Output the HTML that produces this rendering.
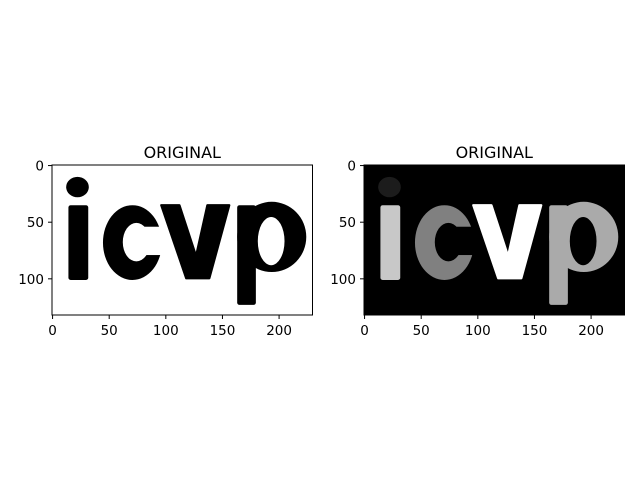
<!DOCTYPE html>
<html><head><meta charset="utf-8"><style>
html,body{margin:0;padding:0;background:#fff;width:640px;height:480px;overflow:hidden}
svg text{font-family:"DejaVu Sans","Liberation Sans",sans-serif;fill:#000}
</style></head><body>
<svg id="fig" width="640" height="480" xmlns="http://www.w3.org/2000/svg">
<rect width="640" height="480" fill="#fff"/>
</svg>
<script>
const xTicks=[0,50,100,150,200];
const yTicks=[0,50,100];
const titles=["ORIGINAL","ORIGINAL"];
const imgW=230, imgH=132;
// letter shapes in image pixel coordinates
const dotEll=[22,19,10,9];             // cx,cy,rx,ry
const stemRect=[14,35,17.5,66];
const cOuter=[70.5,68,26,33];
const cInner=[74,67.6,12,17];
const cGap=[74,54,23,25];              // x,y,w,h opening
const vPoly=[[96,35],[112,35],[126.7,80],[136.7,35],[156,35],[138.4,99.5],[118,99.5]];
const pStem=[163,35,16.5,88];
const pOuter=[193.5,63,30.5,31];
const pInner=[193,66.7,11.8,21.3];
// fills for each panel: background, dot, i, c, v, p
const leftFills=["#fff","#000","#000","#000","#000","#000"];
const rightFills=["#000","#1c1c1c","#c8c8c8","#808080","#ffffff","#aaaaaa"];
const panelsX=[52,364];
const axTop=165, axW=260.5, axH=150;
const sc=axW/imgW;
const NS="http://www.w3.org/2000/svg";
const fig=document.getElementById('fig');
function mk(t,a,p){const e=document.createElementNS(NS,t);for(const k in a)e.setAttribute(k,a[k]);(p||fig).appendChild(e);return e;}
function xs(x0,v){return x0+(v+0.5)*sc;}
function ys(v){return axTop+(v+0.5)*sc;}
function ell(e){const [cx,cy,rx,ry]=e;return `M${cx-rx},${cy} A${rx},${ry} 0 1 0 ${cx+rx},${cy} A${rx},${ry} 0 1 0 ${cx-rx},${cy} Z`;}
[leftFills,rightFills].forEach((f,i)=>{
  const x0=panelsX[i];
  const g=mk('g',{});
  
  
  const cp=mk('clipPath',{id:'cp'+i},g);
  mk('rect',{x:x0,y:axTop,width:axW,height:axH},cp);
  const img=mk('g',{'clip-path':'url(#cp'+i+')'},g);
  
  
  mk('rect',{x:x0,y:axTop,width:axW,height:axH,fill:f[0]},img);
  const inner=mk('g',{transform:`translate(${x0+0.5*sc},${axTop+0.5*sc}) scale(${sc})`},img);
  const d=mk('ellipse',{cx:dotEll[0],cy:dotEll[1],rx:dotEll[2],ry:dotEll[3],fill:f[1]},inner);
  
  const s=mk('rect',{x:stemRect[0],y:stemRect[1],width:stemRect[2],height:stemRect[3],rx:2,fill:f[2]},inner);
  
  const c=mk('path',{d:ell(cOuter)+' '+ell(cInner),'fill-rule':'evenodd',fill:f[3]},inner);
  
  const gap=mk('rect',{x:cGap[0],y:cGap[1],width:cGap[2],height:cGap[3],fill:f[0]},inner);
  
  const v=mk('polygon',{points:vPoly.map(p=>p.join(',')).join(' '),fill:f[4],'stroke':f[4],'stroke-width':2,'stroke-linejoin':'round'},inner);
  
  const ps=mk('rect',{x:pStem[0],y:pStem[1],width:pStem[2],height:pStem[3],rx:2,fill:f[5]},inner);
  
  const pb=mk('path',{d:ell(pOuter)+' '+ell(pInner),'fill-rule':'evenodd',fill:f[5]},inner);
  
  const fr=mk('rect',{x:x0,y:axTop,width:axW,height:axH,fill:'none',stroke:'#000','stroke-width':1},g);
  
  
  xTicks.forEach(t=>{const X=xs(x0,t);
    mk('line',{x1:X,x2:X,y1:axTop+axH,y2:axTop+axH+4,stroke:'#000'},g);
    const tx=mk('text',{x:X,y:axTop+axH+20,'text-anchor':'middle','font-size':13.5},g);tx.textContent=t;
    
    });
  yTicks.forEach(t=>{const Y=ys(t);
    mk('line',{x1:x0,x2:x0-4,y1:Y,y2:Y,stroke:'#000'},g);
    const ty=mk('text',{x:x0-8,y:Y+5,'text-anchor':'end','font-size':13.5},g);ty.textContent=t;
    
    });
  const ti=mk('text',{x:x0+axW/2,y:axTop-7,'text-anchor':'middle','font-size':16},g);ti.textContent=titles[i];
  
  
});
</script>
</body></html>
